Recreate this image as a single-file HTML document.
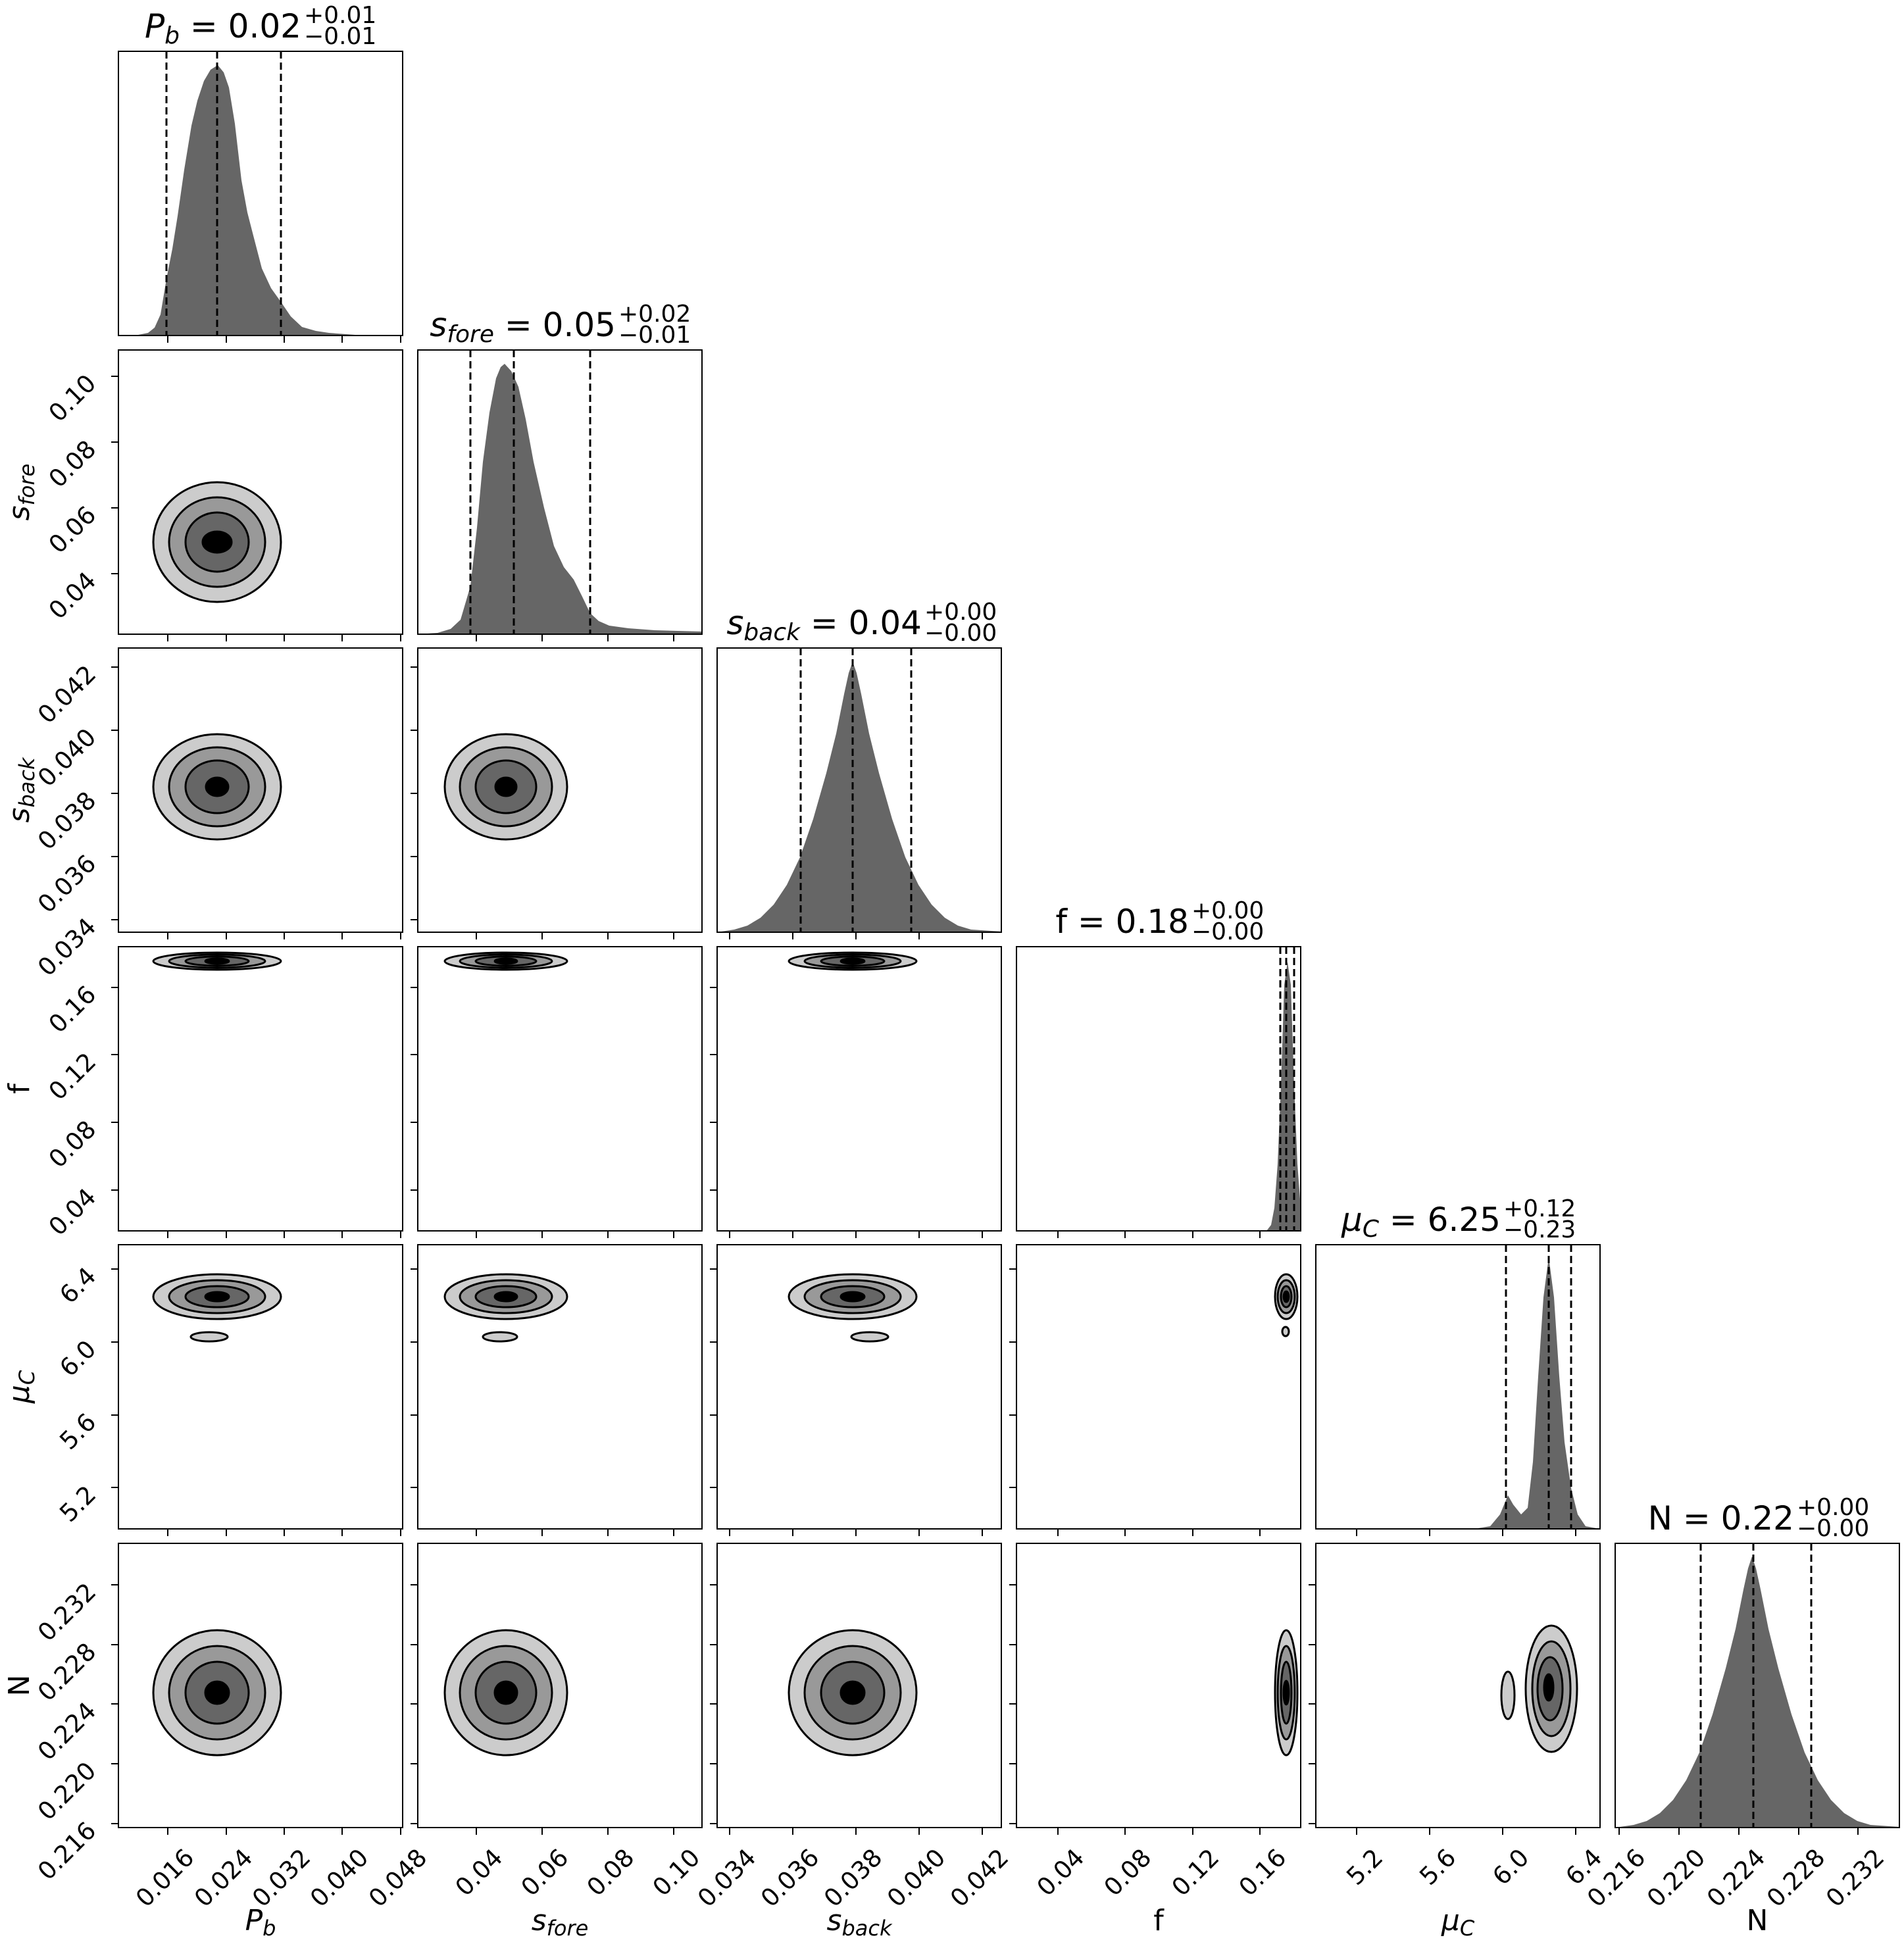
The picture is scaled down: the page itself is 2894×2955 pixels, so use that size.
<!DOCTYPE html>
<html><head><meta charset="utf-8"><style>html,body{margin:0;padding:0;background:#fff}svg{display:block}text{font-family:"DejaVu Sans","Liberation Sans",sans-serif;fill:#000}</style></head>
<body>
<svg xmlns="http://www.w3.org/2000/svg" width="2894" height="2955" viewBox="0 0 2894 2955">
<rect width="2894" height="2955" fill="#fff"/>

<!-- P_b (0,0) -->
<g transform="translate(180,78)">
<path d="M0,432 L30,431 L45,428 L55,420 L64,400 L73,346 L82,300 L90,250 L100,180 L111,113 L120,75 L130,45 L140,28 L151,21 L160,32 L168,55 L177,110 L187,196 L196,245 L205,280 L218,330 L232,360 L247,381 L262,403 L279,419 L300,425 L320,428 L360,431 L432,432 Z" fill="#666"/>
<g stroke="#000" stroke-width="3" stroke-dasharray="11,6"><line x1="73" y1="0" x2="73" y2="432"/><line x1="150" y1="0" x2="150" y2="432"/><line x1="247" y1="0" x2="247" y2="432"/></g>
<rect x="0" y="0" width="432" height="432" fill="none" stroke="#000" stroke-width="2"/>
<g stroke="#000" stroke-width="2"><line x1="75" y1="432" x2="75" y2="443"/><line x1="164" y1="432" x2="164" y2="443"/><line x1="252" y1="432" x2="252" y2="443"/><line x1="340" y1="432" x2="340" y2="443"/><line x1="429" y1="432" x2="429" y2="443"/></g>
</g>
<!-- s_fore (1,1) -->
<g transform="translate(635,532)">
<path d="M0,432 L30,430 L50,424 L65,410 L80,359 L90,270 L99,170 L109,95 L119,43 L126,26 L132,21 L142,32 L153,56 L164,105 L176,170 L192,240 L207,298 L222,330 L237,349 L250,375 L262,400 L275,412 L291,419 L320,423 L360,426 L432,428 L432,432 Z" fill="#666"/>
<g stroke="#000" stroke-width="3" stroke-dasharray="11,6"><line x1="80" y1="0" x2="80" y2="432"/><line x1="146" y1="0" x2="146" y2="432"/><line x1="262" y1="0" x2="262" y2="432"/></g>
<rect x="0" y="0" width="432" height="432" fill="none" stroke="#000" stroke-width="2"/>
<g stroke="#000" stroke-width="2"><line x1="89" y1="432" x2="89" y2="443"/><line x1="189" y1="432" x2="189" y2="443"/><line x1="289" y1="432" x2="289" y2="443"/><line x1="389" y1="432" x2="389" y2="443"/></g>
</g>
<!-- s_back (2,2) -->
<g transform="translate(1090,985)">
<path d="M0,432 L26,428 L46,422 L66,410 L86,390 L106,360 L126,318 L146,260 L166,190 L181,130 L193,70 L200,38 L206,21 L212,38 L219,70 L231,130 L246,190 L266,260 L286,318 L306,360 L326,390 L346,410 L366,422 L386,428 L432,431 L432,432 Z" fill="#666"/>
<g stroke="#000" stroke-width="3" stroke-dasharray="11,6"><line x1="127" y1="0" x2="127" y2="432"/><line x1="206" y1="0" x2="206" y2="432"/><line x1="295" y1="0" x2="295" y2="432"/></g>
<rect x="0" y="0" width="432" height="432" fill="none" stroke="#000" stroke-width="2"/>
<g stroke="#000" stroke-width="2"><line x1="19" y1="432" x2="19" y2="443"/><line x1="115" y1="432" x2="115" y2="443"/><line x1="211" y1="432" x2="211" y2="443"/><line x1="307" y1="432" x2="307" y2="443"/><line x1="403" y1="432" x2="403" y2="443"/></g>
</g>
<!-- f (3,3) -->
<g transform="translate(1545,1439)">
<path d="M380,432 L387,423 L392,397 L397,330 L402,211 L407,58 L412,23 L417,58 L422,211 L427,330 L432,397 L432,432 Z" fill="#666"/>
<g stroke="#000" stroke-width="3" stroke-dasharray="11,6"><line x1="401" y1="0" x2="401" y2="432"/><line x1="410" y1="0" x2="410" y2="432"/><line x1="422" y1="0" x2="422" y2="432"/></g>
<rect x="0" y="0" width="432" height="432" fill="none" stroke="#000" stroke-width="2"/>
<g stroke="#000" stroke-width="2"><line x1="63" y1="432" x2="63" y2="443"/><line x1="165" y1="432" x2="165" y2="443"/><line x1="268" y1="432" x2="268" y2="443"/><line x1="370" y1="432" x2="370" y2="443"/></g>
</g>
<!-- mu_C (4,4) -->
<g transform="translate(2000,1892)">
<path d="M240,432 L265,428 L280,410 L292,381 L300,395 L312,410 L322,400 L330,330 L338,200 L346,80 L354,19 L362,80 L370,200 L378,300 L388,370 L398,410 L410,428 L432,432 Z" fill="#666"/>
<g stroke="#000" stroke-width="3" stroke-dasharray="11,6"><line x1="289" y1="0" x2="289" y2="432"/><line x1="354" y1="0" x2="354" y2="432"/><line x1="388" y1="0" x2="388" y2="432"/></g>
<rect x="0" y="0" width="432" height="432" fill="none" stroke="#000" stroke-width="2"/>
<g stroke="#000" stroke-width="2"><line x1="62" y1="432" x2="62" y2="443"/><line x1="173" y1="432" x2="173" y2="443"/><line x1="284" y1="432" x2="284" y2="443"/><line x1="395" y1="432" x2="395" y2="443"/></g>
</g>
<!-- N (5,5) -->
<g transform="translate(2455,2346)">
<path d="M0,432 L28,428 L48,422 L68,410 L88,390 L108,360 L128,318 L148,260 L168,190 L183,130 L195,70 L202,38 L208,20 L214,38 L221,70 L233,130 L248,190 L268,260 L288,318 L308,360 L328,390 L348,410 L368,422 L388,428 L432,431 L432,432 Z" fill="#666"/>
<g stroke="#000" stroke-width="3" stroke-dasharray="11,6"><line x1="130" y1="0" x2="130" y2="432"/><line x1="210" y1="0" x2="210" y2="432"/><line x1="298" y1="0" x2="298" y2="432"/></g>
<rect x="0" y="0" width="432" height="432" fill="none" stroke="#000" stroke-width="2"/>
<g stroke="#000" stroke-width="2"><line x1="6" y1="432" x2="6" y2="443"/><line x1="97" y1="432" x2="97" y2="443"/><line x1="188" y1="432" x2="188" y2="443"/><line x1="279" y1="432" x2="279" y2="443"/><line x1="369" y1="432" x2="369" y2="443"/></g>
</g>

<!-- Row 1 -->
<g transform="translate(180,532)">
<g stroke="#000" stroke-width="3"><ellipse cx="150" cy="292" rx="97" ry="91" fill="#ccc"/><ellipse cx="150" cy="292" rx="73" ry="68" fill="#999"/><ellipse cx="150" cy="292" rx="48" ry="45" fill="#666"/><ellipse cx="150" cy="292" rx="22" ry="16" fill="#000"/></g>
<rect width="432" height="432" fill="none" stroke="#000" stroke-width="2"/>
<g stroke="#000" stroke-width="2"><line x1="75" y1="432" x2="75" y2="443"/><line x1="164" y1="432" x2="164" y2="443"/><line x1="252" y1="432" x2="252" y2="443"/><line x1="340" y1="432" x2="340" y2="443"/><line x1="429" y1="432" x2="429" y2="443"/>
<line x1="0" y1="40" x2="-11" y2="40"/><line x1="0" y1="140" x2="-11" y2="140"/><line x1="0" y1="240" x2="-11" y2="240"/><line x1="0" y1="340" x2="-11" y2="340"/></g>
</g>
<!-- Row 2 -->
<g transform="translate(180,985)">
<g stroke="#000" stroke-width="3"><ellipse cx="150" cy="211" rx="97" ry="80" fill="#ccc"/><ellipse cx="150" cy="211" rx="73" ry="60" fill="#999"/><ellipse cx="150" cy="211" rx="48" ry="40" fill="#666"/><ellipse cx="150" cy="211" rx="17" ry="14" fill="#000"/></g>
<rect width="432" height="432" fill="none" stroke="#000" stroke-width="2"/>
<g stroke="#000" stroke-width="2"><line x1="75" y1="432" x2="75" y2="443"/><line x1="164" y1="432" x2="164" y2="443"/><line x1="252" y1="432" x2="252" y2="443"/><line x1="340" y1="432" x2="340" y2="443"/><line x1="429" y1="432" x2="429" y2="443"/>
<line x1="0" y1="29" x2="-11" y2="29"/><line x1="0" y1="125" x2="-11" y2="125"/><line x1="0" y1="221" x2="-11" y2="221"/><line x1="0" y1="317" x2="-11" y2="317"/><line x1="0" y1="413" x2="-11" y2="413"/></g>
</g>
<g transform="translate(635,985)">
<g stroke="#000" stroke-width="3"><ellipse cx="134" cy="211" rx="93" ry="80" fill="#ccc"/><ellipse cx="134" cy="211" rx="70" ry="60" fill="#999"/><ellipse cx="134" cy="211" rx="46" ry="40" fill="#666"/><ellipse cx="134" cy="211" rx="16" ry="14" fill="#000"/></g>
<rect width="432" height="432" fill="none" stroke="#000" stroke-width="2"/>
<g stroke="#000" stroke-width="2"><line x1="89" y1="432" x2="89" y2="443"/><line x1="189" y1="432" x2="189" y2="443"/><line x1="289" y1="432" x2="289" y2="443"/><line x1="389" y1="432" x2="389" y2="443"/>
<line x1="0" y1="29" x2="-11" y2="29"/><line x1="0" y1="125" x2="-11" y2="125"/><line x1="0" y1="221" x2="-11" y2="221"/><line x1="0" y1="317" x2="-11" y2="317"/><line x1="0" y1="413" x2="-11" y2="413"/></g>
</g>
<!-- Row 3 -->
<g transform="translate(180,1439)">
<g stroke="#000" stroke-width="3"><ellipse cx="150" cy="22" rx="97" ry="13" fill="#ccc"/><ellipse cx="150" cy="22" rx="73" ry="10" fill="#999"/><ellipse cx="150" cy="22" rx="48" ry="7" fill="#666"/><ellipse cx="150" cy="22" rx="18" ry="4" fill="#000"/></g>
<rect width="432" height="432" fill="none" stroke="#000" stroke-width="2"/>
<g stroke="#000" stroke-width="2"><line x1="75" y1="432" x2="75" y2="443"/><line x1="164" y1="432" x2="164" y2="443"/><line x1="252" y1="432" x2="252" y2="443"/><line x1="340" y1="432" x2="340" y2="443"/><line x1="429" y1="432" x2="429" y2="443"/>
<line x1="0" y1="62" x2="-11" y2="62"/><line x1="0" y1="164" x2="-11" y2="164"/><line x1="0" y1="267" x2="-11" y2="267"/><line x1="0" y1="370" x2="-11" y2="370"/></g>
</g>
<g transform="translate(635,1439)">
<g stroke="#000" stroke-width="3"><ellipse cx="134" cy="22" rx="93" ry="13" fill="#ccc"/><ellipse cx="134" cy="22" rx="70" ry="10" fill="#999"/><ellipse cx="134" cy="22" rx="46" ry="7" fill="#666"/><ellipse cx="134" cy="22" rx="17" ry="4" fill="#000"/></g>
<rect width="432" height="432" fill="none" stroke="#000" stroke-width="2"/>
<g stroke="#000" stroke-width="2"><line x1="89" y1="432" x2="89" y2="443"/><line x1="189" y1="432" x2="189" y2="443"/><line x1="289" y1="432" x2="289" y2="443"/><line x1="389" y1="432" x2="389" y2="443"/>
<line x1="0" y1="62" x2="-11" y2="62"/><line x1="0" y1="164" x2="-11" y2="164"/><line x1="0" y1="267" x2="-11" y2="267"/><line x1="0" y1="370" x2="-11" y2="370"/></g>
</g>
<g transform="translate(1090,1439)">
<g stroke="#000" stroke-width="3"><ellipse cx="206" cy="22" rx="97" ry="13" fill="#ccc"/><ellipse cx="206" cy="22" rx="73" ry="10" fill="#999"/><ellipse cx="206" cy="22" rx="48" ry="7" fill="#666"/><ellipse cx="206" cy="22" rx="18" ry="4" fill="#000"/></g>
<rect width="432" height="432" fill="none" stroke="#000" stroke-width="2"/>
<g stroke="#000" stroke-width="2"><line x1="19" y1="432" x2="19" y2="443"/><line x1="115" y1="432" x2="115" y2="443"/><line x1="211" y1="432" x2="211" y2="443"/><line x1="307" y1="432" x2="307" y2="443"/><line x1="403" y1="432" x2="403" y2="443"/>
<line x1="0" y1="62" x2="-11" y2="62"/><line x1="0" y1="164" x2="-11" y2="164"/><line x1="0" y1="267" x2="-11" y2="267"/><line x1="0" y1="370" x2="-11" y2="370"/></g>
</g>
<!-- Row 4 -->
<g transform="translate(180,1892)">
<g stroke="#000" stroke-width="3"><ellipse cx="150" cy="79" rx="97" ry="34" fill="#ccc"/><ellipse cx="150" cy="79" rx="73" ry="25" fill="#999"/><ellipse cx="150" cy="79" rx="48" ry="16" fill="#666"/><ellipse cx="150" cy="79" rx="18" ry="7" fill="#000"/><ellipse cx="138" cy="140" rx="28" ry="7" fill="#ccc"/></g>
<rect width="432" height="432" fill="none" stroke="#000" stroke-width="2"/>
<g stroke="#000" stroke-width="2"><line x1="75" y1="432" x2="75" y2="443"/><line x1="164" y1="432" x2="164" y2="443"/><line x1="252" y1="432" x2="252" y2="443"/><line x1="340" y1="432" x2="340" y2="443"/><line x1="429" y1="432" x2="429" y2="443"/>
<line x1="0" y1="37" x2="-11" y2="37"/><line x1="0" y1="148" x2="-11" y2="148"/><line x1="0" y1="259" x2="-11" y2="259"/><line x1="0" y1="369" x2="-11" y2="369"/></g>
</g>
<g transform="translate(635,1892)">
<g stroke="#000" stroke-width="3"><ellipse cx="134" cy="79" rx="93" ry="34" fill="#ccc"/><ellipse cx="134" cy="79" rx="70" ry="25" fill="#999"/><ellipse cx="134" cy="79" rx="46" ry="16" fill="#666"/><ellipse cx="134" cy="79" rx="17" ry="7" fill="#000"/><ellipse cx="125" cy="140" rx="26" ry="7" fill="#ccc"/></g>
<rect width="432" height="432" fill="none" stroke="#000" stroke-width="2"/>
<g stroke="#000" stroke-width="2"><line x1="89" y1="432" x2="89" y2="443"/><line x1="189" y1="432" x2="189" y2="443"/><line x1="289" y1="432" x2="289" y2="443"/><line x1="389" y1="432" x2="389" y2="443"/>
<line x1="0" y1="37" x2="-11" y2="37"/><line x1="0" y1="148" x2="-11" y2="148"/><line x1="0" y1="259" x2="-11" y2="259"/><line x1="0" y1="369" x2="-11" y2="369"/></g>
</g>
<g transform="translate(1090,1892)">
<g stroke="#000" stroke-width="3"><ellipse cx="206" cy="79" rx="97" ry="34" fill="#ccc"/><ellipse cx="206" cy="79" rx="73" ry="25" fill="#999"/><ellipse cx="206" cy="79" rx="48" ry="16" fill="#666"/><ellipse cx="206" cy="79" rx="18" ry="7" fill="#000"/><ellipse cx="232" cy="140" rx="28" ry="7" fill="#ccc"/></g>
<rect width="432" height="432" fill="none" stroke="#000" stroke-width="2"/>
<g stroke="#000" stroke-width="2"><line x1="19" y1="432" x2="19" y2="443"/><line x1="115" y1="432" x2="115" y2="443"/><line x1="211" y1="432" x2="211" y2="443"/><line x1="307" y1="432" x2="307" y2="443"/><line x1="403" y1="432" x2="403" y2="443"/>
<line x1="0" y1="37" x2="-11" y2="37"/><line x1="0" y1="148" x2="-11" y2="148"/><line x1="0" y1="259" x2="-11" y2="259"/><line x1="0" y1="369" x2="-11" y2="369"/></g>
</g>
<g transform="translate(1545,1892)">
<g stroke="#000" stroke-width="3"><ellipse cx="410" cy="79" rx="17" ry="34" fill="#ccc"/><ellipse cx="410" cy="79" rx="13" ry="25" fill="#999"/><ellipse cx="410" cy="79" rx="8" ry="16" fill="#666"/><ellipse cx="410" cy="79" rx="4" ry="8" fill="#000"/><ellipse cx="409" cy="132" rx="5" ry="7" fill="#ccc"/></g>
<rect width="432" height="432" fill="none" stroke="#000" stroke-width="2"/>
<g stroke="#000" stroke-width="2"><line x1="63" y1="432" x2="63" y2="443"/><line x1="165" y1="432" x2="165" y2="443"/><line x1="268" y1="432" x2="268" y2="443"/><line x1="370" y1="432" x2="370" y2="443"/>
<line x1="0" y1="37" x2="-11" y2="37"/><line x1="0" y1="148" x2="-11" y2="148"/><line x1="0" y1="259" x2="-11" y2="259"/><line x1="0" y1="369" x2="-11" y2="369"/></g>
</g>
<!-- Row 5 -->
<g transform="translate(180,2346)">
<g stroke="#000" stroke-width="3"><ellipse cx="150" cy="227" rx="97" ry="95" fill="#ccc"/><ellipse cx="150" cy="227" rx="73" ry="71" fill="#999"/><ellipse cx="150" cy="227" rx="48" ry="47" fill="#666"/><ellipse cx="150" cy="227" rx="18" ry="17" fill="#000"/></g>
<rect width="432" height="432" fill="none" stroke="#000" stroke-width="2"/>
<g stroke="#000" stroke-width="2"><line x1="75" y1="432" x2="75" y2="443"/><line x1="164" y1="432" x2="164" y2="443"/><line x1="252" y1="432" x2="252" y2="443"/><line x1="340" y1="432" x2="340" y2="443"/><line x1="429" y1="432" x2="429" y2="443"/>
<line x1="0" y1="63" x2="-11" y2="63"/><line x1="0" y1="154" x2="-11" y2="154"/><line x1="0" y1="244" x2="-11" y2="244"/><line x1="0" y1="335" x2="-11" y2="335"/><line x1="0" y1="426" x2="-11" y2="426"/></g>
</g>
<g transform="translate(635,2346)">
<g stroke="#000" stroke-width="3"><ellipse cx="134" cy="227" rx="93" ry="95" fill="#ccc"/><ellipse cx="134" cy="227" rx="70" ry="71" fill="#999"/><ellipse cx="134" cy="227" rx="46" ry="47" fill="#666"/><ellipse cx="134" cy="227" rx="17" ry="17" fill="#000"/></g>
<rect width="432" height="432" fill="none" stroke="#000" stroke-width="2"/>
<g stroke="#000" stroke-width="2"><line x1="89" y1="432" x2="89" y2="443"/><line x1="189" y1="432" x2="189" y2="443"/><line x1="289" y1="432" x2="289" y2="443"/><line x1="389" y1="432" x2="389" y2="443"/>
<line x1="0" y1="63" x2="-11" y2="63"/><line x1="0" y1="154" x2="-11" y2="154"/><line x1="0" y1="244" x2="-11" y2="244"/><line x1="0" y1="335" x2="-11" y2="335"/><line x1="0" y1="426" x2="-11" y2="426"/></g>
</g>
<g transform="translate(1090,2346)">
<g stroke="#000" stroke-width="3"><ellipse cx="206" cy="227" rx="97" ry="95" fill="#ccc"/><ellipse cx="206" cy="227" rx="73" ry="71" fill="#999"/><ellipse cx="206" cy="227" rx="48" ry="47" fill="#666"/><ellipse cx="206" cy="227" rx="18" ry="17" fill="#000"/></g>
<rect width="432" height="432" fill="none" stroke="#000" stroke-width="2"/>
<g stroke="#000" stroke-width="2"><line x1="19" y1="432" x2="19" y2="443"/><line x1="115" y1="432" x2="115" y2="443"/><line x1="211" y1="432" x2="211" y2="443"/><line x1="307" y1="432" x2="307" y2="443"/><line x1="403" y1="432" x2="403" y2="443"/>
<line x1="0" y1="63" x2="-11" y2="63"/><line x1="0" y1="154" x2="-11" y2="154"/><line x1="0" y1="244" x2="-11" y2="244"/><line x1="0" y1="335" x2="-11" y2="335"/><line x1="0" y1="426" x2="-11" y2="426"/></g>
</g>
<g transform="translate(1545,2346)">
<g stroke="#000" stroke-width="3"><ellipse cx="410" cy="227" rx="17" ry="95" fill="#ccc"/><ellipse cx="410" cy="227" rx="13" ry="71" fill="#999"/><ellipse cx="410" cy="227" rx="8" ry="47" fill="#666"/><ellipse cx="410" cy="227" rx="4" ry="18" fill="#000"/></g>
<rect width="432" height="432" fill="none" stroke="#000" stroke-width="2"/>
<g stroke="#000" stroke-width="2"><line x1="63" y1="432" x2="63" y2="443"/><line x1="165" y1="432" x2="165" y2="443"/><line x1="268" y1="432" x2="268" y2="443"/><line x1="370" y1="432" x2="370" y2="443"/>
<line x1="0" y1="63" x2="-11" y2="63"/><line x1="0" y1="154" x2="-11" y2="154"/><line x1="0" y1="244" x2="-11" y2="244"/><line x1="0" y1="335" x2="-11" y2="335"/><line x1="0" y1="426" x2="-11" y2="426"/></g>
</g>
<g transform="translate(2000,2346)">
<g stroke="#000" stroke-width="3"><ellipse cx="358" cy="221" rx="39" ry="96" fill="#ccc"/><ellipse cx="358" cy="221" rx="29" ry="72" fill="#999"/><ellipse cx="356" cy="221" rx="19" ry="48" fill="#666"/><ellipse cx="354" cy="219" rx="7" ry="20" fill="#000"/><ellipse cx="292" cy="231" rx="10" ry="36" fill="#ccc"/></g>
<rect width="432" height="432" fill="none" stroke="#000" stroke-width="2"/>
<g stroke="#000" stroke-width="2"><line x1="62" y1="432" x2="62" y2="443"/><line x1="173" y1="432" x2="173" y2="443"/><line x1="284" y1="432" x2="284" y2="443"/><line x1="395" y1="432" x2="395" y2="443"/>
<line x1="0" y1="63" x2="-11" y2="63"/><line x1="0" y1="154" x2="-11" y2="154"/><line x1="0" y1="244" x2="-11" y2="244"/><line x1="0" y1="335" x2="-11" y2="335"/><line x1="0" y1="426" x2="-11" y2="426"/></g>
</g>

<!-- Titles -->
<g font-size="50">
<text x="458" y="57" text-anchor="end"><tspan font-style="italic">P</tspan><tspan font-style="italic" font-size="36" dy="9">b</tspan><tspan dy="-9"> = 0.02</tspan></text>
<text x="936" y="511" text-anchor="end"><tspan font-style="italic">s</tspan><tspan font-style="italic" font-size="36" dy="9">fore</tspan><tspan dy="-9"> = 0.05</tspan></text>
<text x="1401" y="964" text-anchor="end"><tspan font-style="italic">s</tspan><tspan font-style="italic" font-size="36" dy="9">back</tspan><tspan dy="-9"> = 0.04</tspan></text>
<text x="1807" y="1418" text-anchor="end">f = 0.18</text>
<text x="2281" y="1871" text-anchor="end"><tspan font-style="italic">μ</tspan><tspan font-style="italic" font-size="36" dy="9">C</tspan><tspan dy="-9"> = 6.25</tspan></text>
<text x="2727" y="2325" text-anchor="end">N = 0.22</text>
</g>
<g font-size="36">
<text x="462" y="35">+0.01</text><text x="462" y="67">−0.01</text>
<text x="940" y="489">+0.02</text><text x="940" y="521">−0.01</text>
<text x="1405" y="942">+0.00</text><text x="1405" y="974">−0.00</text>
<text x="1811" y="1396">+0.00</text><text x="1811" y="1428">−0.00</text>
<text x="2285" y="1849">+0.12</text><text x="2285" y="1881">−0.23</text>
<text x="2731" y="2303">+0.00</text><text x="2731" y="2335">−0.00</text>
</g>

<!-- X tick labels -->
<g font-size="37" text-anchor="end">
<text transform="translate(297,2826) rotate(-45)">0.016</text>
<text transform="translate(386,2826) rotate(-45)">0.024</text>
<text transform="translate(474,2826) rotate(-45)">0.032</text>
<text transform="translate(562,2826) rotate(-45)">0.040</text>
<text transform="translate(651,2826) rotate(-45)">0.048</text>
<text transform="translate(766,2826) rotate(-45)">0.04</text>
<text transform="translate(866,2826) rotate(-45)">0.06</text>
<text transform="translate(966,2826) rotate(-45)">0.08</text>
<text transform="translate(1066,2826) rotate(-45)">0.10</text>
<text transform="translate(1151,2826) rotate(-45)">0.034</text>
<text transform="translate(1247,2826) rotate(-45)">0.036</text>
<text transform="translate(1343,2826) rotate(-45)">0.038</text>
<text transform="translate(1439,2826) rotate(-45)">0.040</text>
<text transform="translate(1535,2826) rotate(-45)">0.042</text>
<text transform="translate(1650,2826) rotate(-45)">0.04</text>
<text transform="translate(1752,2826) rotate(-45)">0.08</text>
<text transform="translate(1855,2826) rotate(-45)">0.12</text>
<text transform="translate(1957,2826) rotate(-45)">0.16</text>
<text transform="translate(2104,2826) rotate(-45)">5.2</text>
<text transform="translate(2215,2826) rotate(-45)">5.6</text>
<text transform="translate(2326,2826) rotate(-45)">6.0</text>
<text transform="translate(2437,2826) rotate(-45)">6.4</text>
<text transform="translate(2503,2826) rotate(-45)">0.216</text>
<text transform="translate(2594,2826) rotate(-45)">0.220</text>
<text transform="translate(2685,2826) rotate(-45)">0.224</text>
<text transform="translate(2776,2826) rotate(-45)">0.228</text>
<text transform="translate(2866,2826) rotate(-45)">0.232</text>
</g>

<!-- Y tick labels -->
<g font-size="37" text-anchor="end">
<text transform="translate(148,585) rotate(-45)">0.10</text>
<text transform="translate(148,685) rotate(-45)">0.08</text>
<text transform="translate(148,785) rotate(-45)">0.06</text>
<text transform="translate(148,885) rotate(-45)">0.04</text>
<text transform="translate(148,1027) rotate(-45)">0.042</text>
<text transform="translate(148,1123) rotate(-45)">0.040</text>
<text transform="translate(148,1219) rotate(-45)">0.038</text>
<text transform="translate(148,1315) rotate(-45)">0.036</text>
<text transform="translate(148,1411) rotate(-45)">0.034</text>
<text transform="translate(148,1514) rotate(-45)">0.16</text>
<text transform="translate(148,1616) rotate(-45)">0.12</text>
<text transform="translate(148,1719) rotate(-45)">0.08</text>
<text transform="translate(148,1822) rotate(-45)">0.04</text>
<text transform="translate(148,1942) rotate(-45)">6.4</text>
<text transform="translate(148,2053) rotate(-45)">6.0</text>
<text transform="translate(148,2164) rotate(-45)">5.6</text>
<text transform="translate(148,2274) rotate(-45)">5.2</text>
<text transform="translate(148,2422) rotate(-45)">0.232</text>
<text transform="translate(148,2513) rotate(-45)">0.228</text>
<text transform="translate(148,2603) rotate(-45)">0.224</text>
<text transform="translate(148,2694) rotate(-45)">0.220</text>
<text transform="translate(148,2785) rotate(-45)">0.216</text>
</g>

<!-- Axis labels -->
<g font-size="44" text-anchor="middle">
<text x="396" y="2934"><tspan font-style="italic">P</tspan><tspan font-style="italic" font-size="32" dy="8">b</tspan></text>
<text x="851" y="2934"><tspan font-style="italic">s</tspan><tspan font-style="italic" font-size="32" dy="8">fore</tspan></text>
<text x="1306" y="2934"><tspan font-style="italic">s</tspan><tspan font-style="italic" font-size="32" dy="8">back</tspan></text>
<text x="1761" y="2934">f</text>
<text x="2216" y="2934"><tspan font-style="italic">μ</tspan><tspan font-style="italic" font-size="32" dy="8">C</tspan></text>
<text x="2671" y="2934">N</text>
<text transform="translate(44,748) rotate(-90)"><tspan font-style="italic">s</tspan><tspan font-style="italic" font-size="32" dy="8">fore</tspan></text>
<text transform="translate(44,1201) rotate(-90)"><tspan font-style="italic">s</tspan><tspan font-style="italic" font-size="32" dy="8">back</tspan></text>
<text transform="translate(44,1655) rotate(-90)">f</text>
<text transform="translate(44,2108) rotate(-90)"><tspan font-style="italic">μ</tspan><tspan font-style="italic" font-size="32" dy="8">C</tspan></text>
<text transform="translate(44,2562) rotate(-90)">N</text>
</g>
</svg>
</body></html>
